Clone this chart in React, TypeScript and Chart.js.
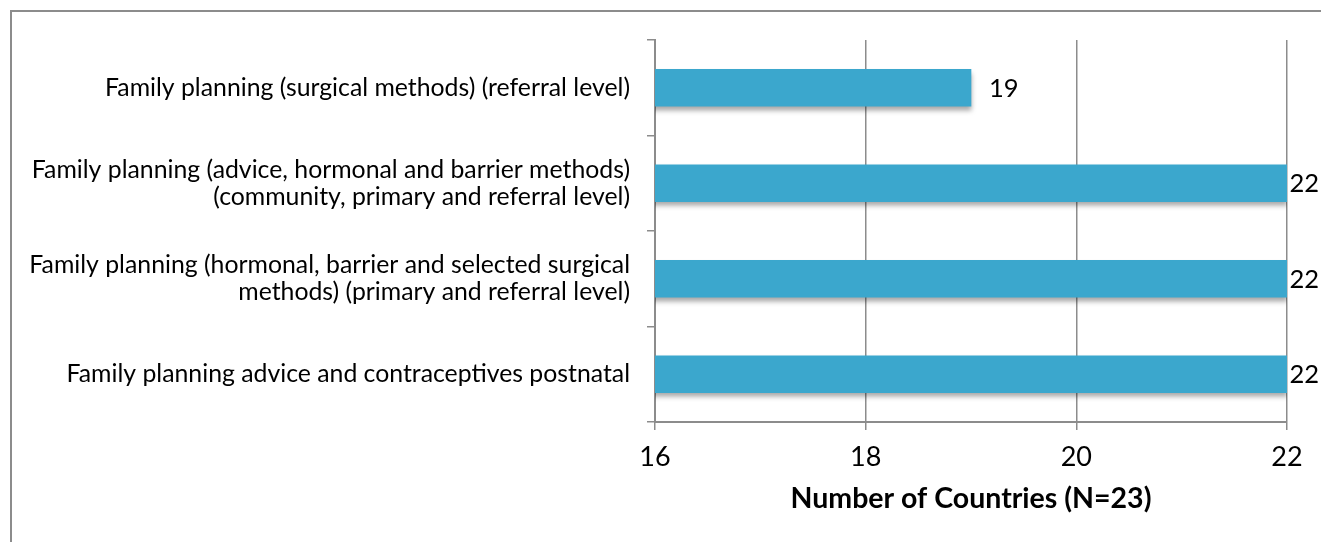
import React, { useEffect, useRef } from "react";
import { Chart, registerables } from "chart.js";

Chart.register(...registerables);

const categories: (string | string[])[] = [
  "Family planning (surgical methods) (referral level)",
  ["Family planning (advice, hormonal and barrier methods)", "(community, primary and referral level)"],
  ["Family planning (hormonal, barrier and selected surgical", "methods) (primary and referral level)"],
  "Family planning advice and contraceptives postnatal",
];
const values: number[] = [19, 22, 22, 22];
const xMin = 16;
const xMax = 22;
const xStep = 2;
const xTitle = "Number of Countries (N=23)";

const FONT = "Lato, 'Open Sans', sans-serif";
const BAR_COLOR = "#3BA7CD";
const GRID_COLOR = "#8c8c8c";

const shadowPlugin = {
  id: "barShadow",
  beforeDatasetDraw(chart: any) {
    const ctx = chart.ctx;
    ctx.save();
    ctx.shadowColor = "rgba(0,0,0,0.35)";
    ctx.shadowBlur = 5;
    ctx.shadowOffsetX = 1;
    ctx.shadowOffsetY = 4;
  },
  afterDatasetDraw(chart: any) {
    chart.ctx.restore();
  },
};

const valueLabelPlugin = {
  id: "valueLabels",
  afterDatasetsDraw(chart: any) {
    const ctx = chart.ctx;
    const meta = chart.getDatasetMeta(0);
    ctx.save();
    ctx.font = `25.5px ${FONT}`;
    ctx.fillStyle = "#000";
    ctx.textBaseline = "middle";
    ctx.textAlign = "left";
    meta.data.forEach((bar: any, i: number) => {
      const text = String(values[i]);
      const w = ctx.measureText(text).width;
      const x = Math.min(bar.x + 18, chart.width - w - 2);
      ctx.fillText(text, x, bar.y + 1);
    });
    ctx.restore();
  },
};

export default function App() {
  const ref = useRef<HTMLCanvasElement | null>(null);

  useEffect(() => {
    if (!ref.current) return;
    const chart = new Chart(ref.current, {
      type: "bar",
      data: {
        labels: categories,
        datasets: [
          {
            data: values,
            backgroundColor: BAR_COLOR,
            borderWidth: 0,
            barThickness: 37,
          },
        ],
      },
      options: {
        indexAxis: "y",
        animation: false,
        responsive: false,
        layout: { padding: { top: 40, right: 34, left: 0, bottom: 0 } },
        plugins: {
          legend: { display: false },
          tooltip: { enabled: false },
        },
        scales: {
          x: {
            type: "linear",
            min: xMin,
            max: xMax,
            ticks: {
              stepSize: xStep,
              color: "#000",
              font: { family: FONT, size: 27 },
              padding: 11,
            },
            grid: {
              color: GRID_COLOR,
              lineWidth: 1.5,
              tickLength: 8,
              tickColor: GRID_COLOR,
            },
            border: { display: true, color: GRID_COLOR, width: 2 },
            title: {
              display: true,
              text: xTitle,
              color: "#000",
              font: { family: FONT, size: 28.5, weight: "bold" },
              padding: { top: 0, bottom: 26 },
            },
            afterFit(scale: any) {
              scale.height = 120;
            },
          },
          y: {
            type: "category",
            ticks: {
              color: "#000",
              font: { family: FONT, size: 24.8, lineHeight: 1.1 },
              padding: 17,
            },
            grid: {
              offset: true,
              drawOnChartArea: false,
              tickLength: 8,
              tickColor: GRID_COLOR,
              lineWidth: 1.5,
            },
            border: { display: true, color: GRID_COLOR, width: 2 },
            afterFit(scale: any) {
              scale.width = 655;
            },
          },
        },
      },
      plugins: [shadowPlugin, valueLabelPlugin],
    } as any);
    return () => chart.destroy();
  }, []);

  return (
    <div
      style={{
        position: "fixed",
        left: 0,
        top: 0,
        width: 1321,
        height: 542,
        overflow: "hidden",
        background: "#fff",
      }}
    >
      <div
        style={{
          position: "absolute",
          left: 10,
          top: 10,
          width: 1400,
          height: 700,
          borderTop: "2px solid #8c8c8c",
          borderLeft: "2px solid #8c8c8c",
        }}
      />
      <canvas
        ref={ref}
        width={1321}
        height={542}
        style={{ position: "absolute", left: 0, top: 0 }}
      />
    </div>
  );
}
